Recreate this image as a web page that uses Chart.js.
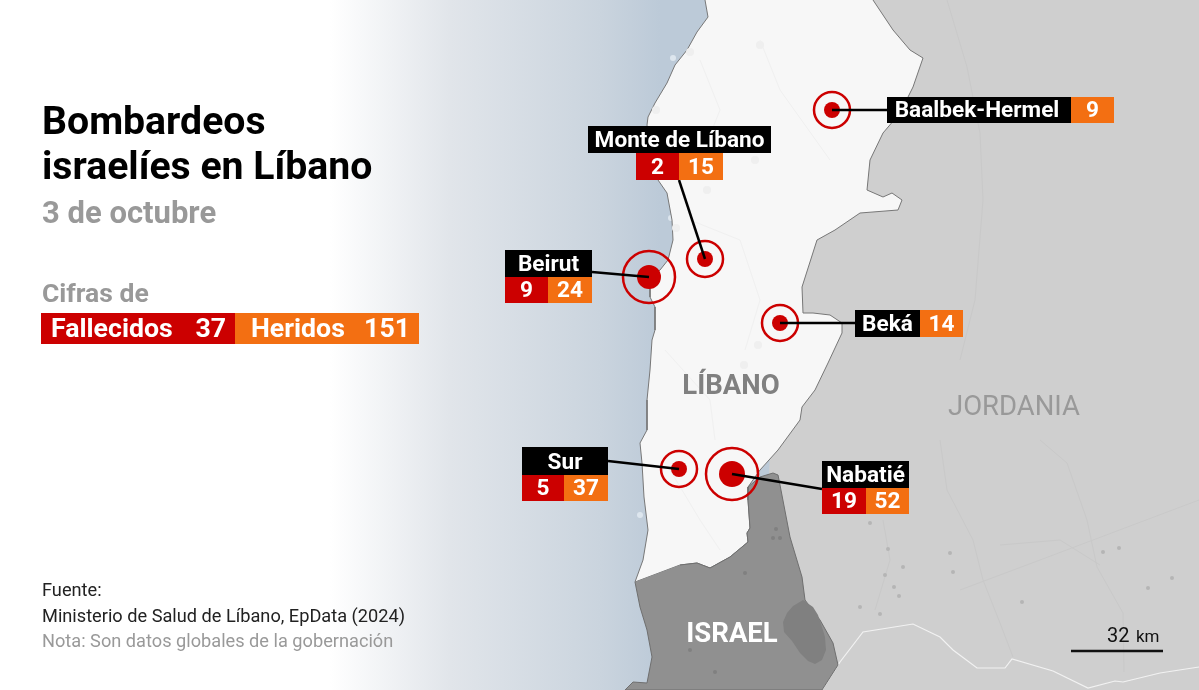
<!DOCTYPE html>
<html lang="es">
<head>
<meta charset="utf-8">
<title>Bombardeos israelíes en Líbano</title>
<script src="https://cdn.jsdelivr.net/npm/chart.js@4/dist/chart.umd.js"></script>
<style>
  html, body { margin: 0; padding: 0; background: #fff; }
  canvas { display: block; }
</style>
</head>
<body>
<canvas id="myChart" width="1199" height="690"></canvas>
<script>
// regions and their figures
const regions = ['Baalbek-Hermel', 'Monte de Líbano', 'Beirut', 'Beká', 'Sur', 'Nabatié'];
const fallecidos = [null, 2, 9, null, 5, 19];
const heridos = [9, 15, 24, 14, 37, 52];
const dotX = [832, 705, 649, 780, 679, 732];
const dotY = [110, 259, 277, 323, 469, 474];
const totalFallecidos = 37;
const totalHeridos = 151;

// map outlines, in map units
const lebanon = [[705,0],[708,17],[697,32],[687,50],[675,65],[667,83],[655,103],[648,117],[647,125],[650,150],[658,180],[667,193],[672,220],[673,240],[668,260],[660,270],[650,277],[650,297],[655,307],[655,330],[652,340],[650,370],[647,400],[647,430],[640,443],[642,463],[644,497],[648,530],[643,560],[635,582],[680,565],[697,563],[710,568],[730,557],[748,542],[747,533],[750,528],[748,500],[748,487],[760,470],[778,450],[800,420],[802,407],[815,390],[828,363],[842,333],[842,323],[830,315],[813,313],[803,313],[802,287],[817,240],[835,230],[860,213],[898,210],[902,200],[892,193],[883,197],[867,190],[870,160],[883,133],[900,113],[913,87],[923,58],[910,50],[893,30],[873,0]];
const israel = [[635,582],[640,607],[647,630],[652,657],[647,683],[633,682],[625,690],[822,690],[838,665],[833,643],[820,620],[805,600],[802,577],[790,537],[780,485],[778,475],[773,473],[760,477],[748,487],[748,500],[750,528],[747,533],[748,542],[730,557],[710,568],[697,563],[680,565]];
const galilee = [[803,600],[793,606],[787,613],[783,622],[784,632],[792,641],[800,653],[808,661],[815,664],[822,660],[826,650],[825,637],[822,627],[818,615],[813,607]];
const eastLand = [[873,0],[1199,0],[1199,690],[760,690],[770,450],[790,300],[830,100]];
const syriaBorder = [[822,690],[840,662],[863,632],[913,624],[940,637],[953,650],[977,668],[1005,668],[1012,659],[1053,671],[1088,688],[1115,681],[1123,682],[1160,673],[1199,667]];
const landRoads = [[940,440],[947,490],[973,540],[983,580],[1000,623],[1013,657],null,[1040,440],[1067,463],[1087,520],[1097,567],[1123,613],[1124,672],null,[947,0],[967,67],[980,133],[983,200],[975,300],[960,360],null,[883,520],[890,560],[875,610],null,[1000,545],[1060,540],[1100,565],null,[960,590],[1040,560],[1199,500]];
const lebanonRoads = [[700,60],[720,110],[700,160],null,[760,40],[780,90],[830,160],null,[690,220],[740,240],[760,300],[745,350],null,[670,470],[700,520],[720,550],null,[665,350],[710,400],[715,440]];
const landSpecks = [[950,553],[953,572],[899,596],[894,587],[885,575],[903,567],[888,549],[870,523],[1103,552],[1148,588],[1172,578],[1119,548],[1022,602],[880,614],[860,607]];
const israelSpecks = [[776,529],[773,538],[780,538],[745,573],[690,650],[715,672]];
const lebanonPatches = [[656,110],[676,228],[758,345],[744,365],[760,45],[755,160],[707,190],[690,52]];
const coastSpecks = [[673,58],[671,218],[640,515]];

// leader lines, from the box edge to the dot
const leaderEndX = [887, 679, 592, 855, 608, 822];
const leaderEndY = [110, 180, 272, 323, 461, 489];
const scaleBarX = [1071, 1163];
const scaleBarY = [651, 651];

// style
const red = '#cc0000';
const orange = '#f36f12';
const font = 'Roboto, sans-serif';
const ringRadius = [18, 18, 26, 18, 18, 26];
const coreRadius = [8, 8, 12, 8, 8, 13];
// box of each label: name box, then the red and orange cells
const boxes = [
  { x: 887, y: 97, w: 184, h: 26, inline: true, orangeW: 43, textDx: -2 },
  { x: 588, y: 126, w: 183, h: 27, vx: 636, redW: 43, orangeW: 44, vh: 27 },
  { x: 505, y: 250, w: 87, h: 27, vx: 505, redW: 43, orangeW: 44, vh: 26 },
  { x: 855, y: 310, w: 65, h: 27, inline: true, orangeW: 43 },
  { x: 522, y: 447, w: 86, h: 28, vx: 522, redW: 42, orangeW: 44, vh: 26 },
  { x: 822, y: 461, w: 87, h: 27, vx: 822, redW: 44, orangeW: 43, vh: 26 }
];

function pts(list) {
  return list.map(p => p ? { x: p[0], y: p[1] } : { x: null, y: null });
}

function polygon(list, fillColor, line) {
  return {
    type: 'line', data: pts(list), fill: 'shape', backgroundColor: fillColor,
    borderColor: line, borderWidth: line === 'transparent' ? 0 : 1,
    pointRadius: 0, tension: 0
  };
}

function path(list, color, width) {
  return {
    type: 'line', data: pts(list), fill: false, borderColor: color,
    borderWidth: width, pointRadius: 0, tension: 0, spanGaps: false
  };
}

function specks(list, color, radius) {
  return {
    type: 'scatter', data: pts(list), backgroundColor: color,
    borderWidth: 0, pointRadius: radius
  };
}

const leaders = regions.map((r, i) => path([[dotX[i], dotY[i]], [leaderEndX[i], leaderEndY[i]]], '#000', 2.5));

function put(ctx, text, x, y, f, color, align) {
  ctx.font = f;
  ctx.fillStyle = color;
  ctx.textAlign = align || 'left';
  ctx.textBaseline = 'alphabetic';
  ctx.fillText(text, x, y);
}

function cell(ctx, x, y, w, h, color, text, dx) {
  ctx.fillStyle = color;
  ctx.fillRect(x, y, w, h);
  put(ctx, text, x + w / 2 + (dx || 0), y + h - 6, 'bold 22.6px ' + font, '#fff', 'center');
}

// sea gradient behind the map
const seaPlugin = {
  id: 'sea',
  beforeDraw(chart) {
    const { ctx, width, height } = chart;
    const g = ctx.createLinearGradient(0, 0, width, 0);
    g.addColorStop(0, '#ffffff');
    g.addColorStop(330 / 1199, '#ffffff');
    g.addColorStop(450 / 1199, '#e1e5ea');
    g.addColorStop(600 / 1199, '#cad4de');
    g.addColorStop(660 / 1199, '#bccad8');
    g.addColorStop(1, '#bccad8');
    ctx.fillStyle = g;
    ctx.fillRect(0, 0, width, height);
  }
};

// titles, legend, map names and the region boxes
const textPlugin = {
  id: 'texts',
  afterDatasetsDraw(chart) {
    const ctx = chart.ctx;
    ctx.save();
    put(ctx, 'Bombardeos', 42, 134, 'bold 39.2px ' + font, '#000');
    put(ctx, 'israelíes en Líbano', 42, 179, 'bold 39.2px ' + font, '#000');
    put(ctx, '3 de octubre', 42, 223, 'bold 31px ' + font, '#999');
    put(ctx, 'Cifras de', 42, 302, 'bold 26.5px ' + font, '#999');

    ctx.fillStyle = red;
    ctx.fillRect(41, 313, 194, 31);
    ctx.fillStyle = orange;
    ctx.fillRect(235, 313, 184, 31);
    put(ctx, 'Fallecidos', 51, 337, 'bold 26.7px ' + font, '#fff');
    put(ctx, String(totalFallecidos), 226, 337, 'bold 26.7px ' + font, '#fff', 'right');
    put(ctx, 'Heridos', 251, 337, 'bold 26.7px ' + font, '#fff');
    put(ctx, String(totalHeridos), 410, 337, 'bold 26.7px ' + font, '#fff', 'right');

    put(ctx, 'Fuente:', 42, 596, '18.2px ' + font, '#222');
    put(ctx, 'Ministerio de Salud de Líbano, EpData (2024)', 42, 622, '18.2px ' + font, '#222');
    put(ctx, 'Nota: Son datos globales de la gobernación', 42, 647, '18.2px ' + font, '#999');

    put(ctx, 'LÍBANO', 731, 394, 'bold 27.5px ' + font, '#808080', 'center');
    put(ctx, 'ISRAEL', 732, 642, 'bold 27.5px ' + font, '#fff', 'center');
    put(ctx, 'JORDANIA', 1014, 415, '27.5px ' + font, '#999', 'center');
    put(ctx, '32', 1107, 642, '20px ' + font, '#111');
    put(ctx, 'km', 1136, 642, '17px ' + font, '#111');

    regions.forEach((name, i) => {
      const b = boxes[i];
      cell(ctx, b.x, b.y, b.w, b.h, '#000', name, b.textDx);
      if (b.inline) {
        cell(ctx, b.x + b.w, b.y, b.orangeW, b.h, orange, String(heridos[i]));
      } else {
        cell(ctx, b.vx, b.y + b.h, b.redW, b.vh, red, String(fallecidos[i]));
        cell(ctx, b.vx + b.redW, b.y + b.h, b.orangeW, b.vh, orange, String(heridos[i]));
      }
    });
    ctx.restore();
  }
};

const dots = pts(regions.map((r, i) => [dotX[i], dotY[i]]));

new Chart(document.getElementById('myChart').getContext('2d'), {
  data: {
    // first dataset ends up on top
    datasets: [
      ...leaders,
      { type: 'scatter', data: dots, backgroundColor: red, borderWidth: 0, pointRadius: coreRadius },
      { type: 'scatter', data: dots, backgroundColor: 'transparent', borderColor: red, borderWidth: 2.5, pointRadius: ringRadius },
      path(scaleBarX.map((x, i) => [x, scaleBarY[i]]), '#111', 2.5),
      polygon(galilee, '#808080', 'transparent'),
      specks(israelSpecks, '#808080', 2),
      polygon(israel, '#909090', '#6f6f6f'),
      path(lebanonRoads, '#f0f0f0', 1),
      specks(lebanonPatches, '#efefef', 4),
      polygon(lebanon, '#f7f7f7', '#777777'),
      specks(coastSpecks, '#dde6ee', 3),
      path(syriaBorder, '#f2f2f2', 1.2),
      specks(landSpecks, '#b5b5b5', 2),
      path(landRoads, '#c9c9c9', 1),
      polygon(eastLand, '#cfcfcf', 'transparent')
    ]
  },
  options: {
    responsive: false,
    animation: false,
    layout: { padding: 0, autoPadding: false },
    plugins: { legend: { display: false }, tooltip: { enabled: false }, title: { display: false } },
    scales: {
      x: { type: 'linear', display: false, min: 0, max: 1199 },
      y: { type: 'linear', display: false, min: 0, max: 690, reverse: true }
    }
  },
  plugins: [seaPlugin, textPlugin]
});
</script>
</body>
</html>
